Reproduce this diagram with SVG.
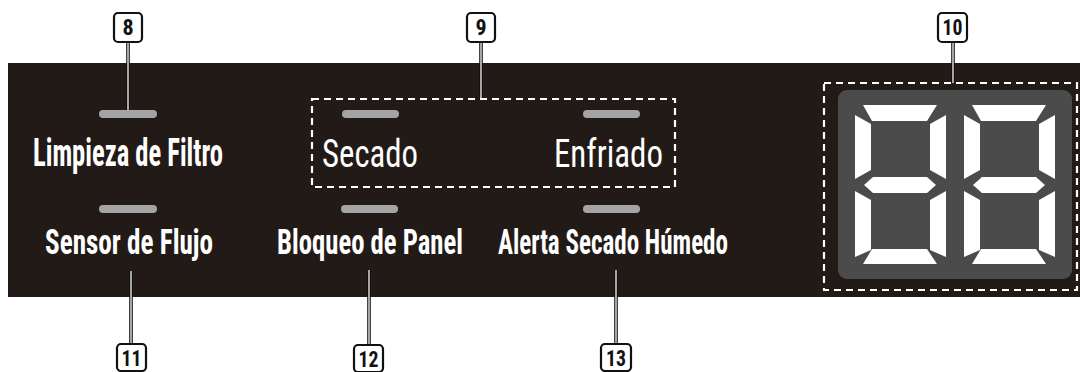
<svg xmlns="http://www.w3.org/2000/svg" xmlns:xlink="http://www.w3.org/1999/xlink" width="1080" height="372" viewBox="0 0 1080 372">
<style>
.lbl{fill:#ffffff;font-family:"Liberation Sans Narrow","Roboto Condensed","DejaVu Sans Condensed","Liberation Sans",sans-serif;font-stretch:condensed}
.b{font-weight:bold}
.r{font-weight:normal}
.pill{fill:#a4a4a4}
.dash{fill:none;stroke:#ffffff;stroke-width:2.2;stroke-dasharray:7 5}
.badge{fill:#ffffff;stroke:#111111;stroke-width:2.2}
.num{fill:#111111;font-family:"Liberation Sans Narrow","Roboto Condensed","Liberation Sans",sans-serif;font-weight:bold;font-size:22px;text-anchor:middle}
.lo{stroke:#111111;stroke-width:3.6;fill:none}
.li{stroke:#e6e6e6;stroke-width:1.4;fill:none}
.seg{fill:#ffffff}
</style>
<defs>
<g id="digit">
<polygon class="seg" points="863,105 937,105 927,121 872,121"/>
<polygon class="seg" points="855,115 871,124 871,170 855,179"/>
<polygon class="seg" points="946,115 930,124 930,170 946,179"/>
<polygon class="seg" points="864,185 873,177 927,177 936,185 927,193 873,193"/>
<polygon class="seg" points="855,191 871,200 871,250 855,257"/>
<polygon class="seg" points="946,191 930,200 930,250 946,257"/>
<polygon class="seg" points="872,249 927,249 937,264 863,264"/>
</g>
</defs>
<rect x="0" y="0" width="1080" height="372" fill="#ffffff"/>
<rect id="panel" x="8" y="63" width="1072" height="234" fill="#221a17"/>

<g id="connectors">
<line class="lo" x1="128" y1="42" x2="128" y2="110"/><line class="li" x1="128" y1="42" x2="128" y2="110"/>
<line class="lo" x1="481" y1="42" x2="481" y2="99"/><line class="li" x1="481" y1="42" x2="481" y2="99"/>
<line class="lo" x1="953" y1="42" x2="953" y2="83"/><line class="li" x1="953" y1="42" x2="953" y2="83"/>
<line class="lo" x1="131" y1="271" x2="131" y2="344"/><line class="li" x1="131" y1="271" x2="131" y2="344"/>
<line class="lo" x1="369" y1="270" x2="369" y2="345"/><line class="li" x1="369" y1="270" x2="369" y2="345"/>
<line class="lo" x1="616" y1="270" x2="616" y2="344"/><line class="li" x1="616" y1="270" x2="616" y2="344"/>
</g>

<g id="limpieza">
<rect class="pill" x="99" y="110" width="58" height="8" rx="4"/>
<text class="lbl b" x="33" y="166" font-size="38" textLength="190" lengthAdjust="spacingAndGlyphs">Limpieza de Filtro</text>
</g>
<g id="grupo9">
<rect class="dash" x="312" y="99" width="363" height="88"/>
<rect class="pill" x="342" y="110" width="57" height="8" rx="4"/>
<rect class="pill" x="583" y="110" width="57" height="8" rx="4"/>
<text class="lbl r" x="322" y="167" font-size="39" textLength="96" lengthAdjust="spacingAndGlyphs">Secado</text>
<text class="lbl r" x="554" y="167" font-size="39" textLength="109" lengthAdjust="spacingAndGlyphs">Enfriado</text>
</g>
<g id="sensor">
<rect class="pill" x="99" y="205" width="58" height="8" rx="4"/>
<text class="lbl b" x="45" y="254" font-size="35" textLength="168" lengthAdjust="spacingAndGlyphs">Sensor de Flujo</text>
</g>
<g id="bloqueo">
<rect class="pill" x="341" y="205" width="57" height="8" rx="4"/>
<text class="lbl b" x="277" y="254" font-size="35" textLength="186" lengthAdjust="spacingAndGlyphs">Bloqueo de Panel</text>
</g>
<g id="alerta">
<rect class="pill" x="583" y="205" width="57" height="8" rx="4"/>
<text class="lbl b" x="498" y="254" font-size="35" textLength="230" lengthAdjust="spacingAndGlyphs">Alerta Secado Húmedo</text>
</g>
<g id="display">
<rect class="dash" x="824" y="83" width="253" height="207"/>
<rect x="838" y="90" width="234" height="189" rx="9" fill="#4b4b4b"/>
<use xlink:href="#digit"/>
<use xlink:href="#digit" transform="translate(109,0)"/>
</g>

<g id="badge8"><rect class="badge" x="114" y="13" width="28" height="29" rx="4"/><text class="num" x="128" y="35">8</text></g>
<g id="badge9"><rect class="badge" x="467" y="13" width="28" height="29" rx="4"/><text class="num" x="481" y="35">9</text></g>
<g id="badge10"><rect class="badge" x="938" y="13" width="29" height="29" rx="4"/><text class="num" x="952.5" y="35" textLength="20" lengthAdjust="spacingAndGlyphs">10</text></g>
<g id="badge11"><rect class="badge" x="117" y="344" width="29" height="27" rx="4"/><text class="num" x="131.5" y="366" textLength="20" lengthAdjust="spacingAndGlyphs">11</text></g>
<g id="badge12"><rect class="badge" x="354" y="345" width="29" height="27" rx="4"/><text class="num" x="368.5" y="367" textLength="20" lengthAdjust="spacingAndGlyphs">12</text></g>
<g id="badge13"><rect class="badge" x="601" y="344" width="30" height="27" rx="4"/><text class="num" x="616" y="366" textLength="20" lengthAdjust="spacingAndGlyphs">13</text></g>
</svg>
